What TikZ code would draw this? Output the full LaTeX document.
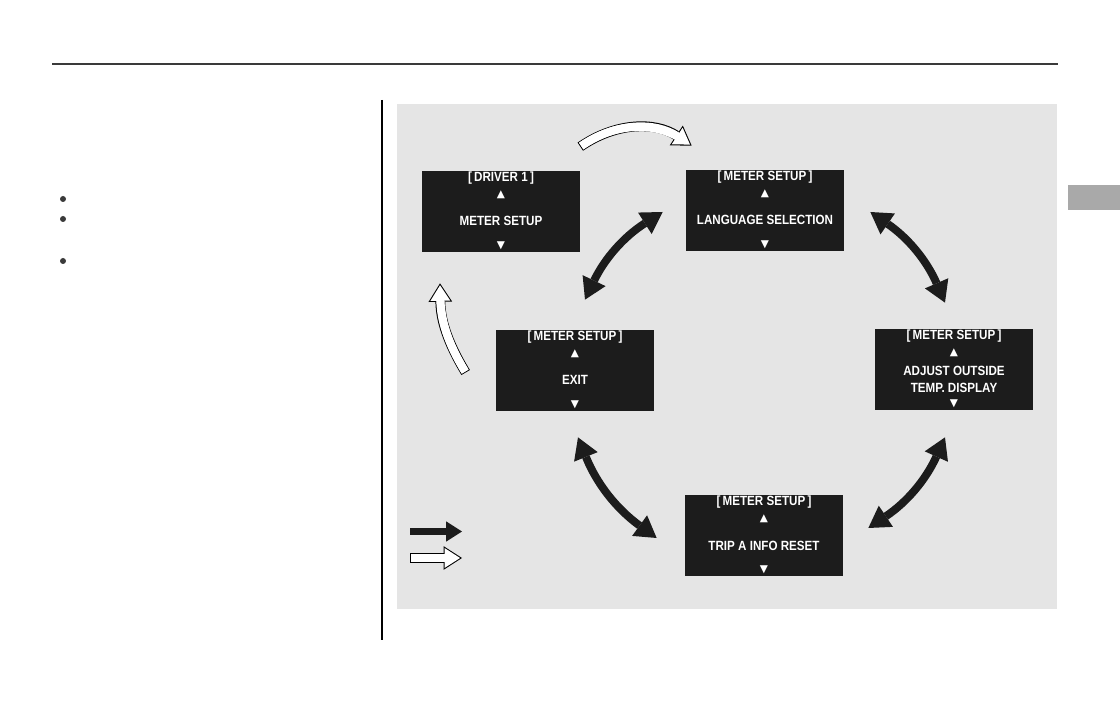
\documentclass[tikz,border=0pt]{standalone}
\usepackage{fontspec}
\newfontfamily\lcdfont{Liberation Sans}[FakeStretch=0.87]
\newfontfamily\symfont{DejaVu Sans}
\usetikzlibrary{arrows.meta}

\definecolor{panelgray}{HTML}{E5E5E5}
\definecolor{lcdblack}{HTML}{1C1C1C}
\definecolor{tabgray}{HTML}{A9A9A9}
\definecolor{rulegray}{HTML}{3A3A3A}

\tikzset{
    screen/.style={fill=lcdblack, minimum width=3.16cm, minimum height=1.62cm, inner sep=0pt},
    lcdtext/.style={text=white, inner sep=0pt, anchor=base, font=\lcdfont\bfseries\fontsize{7.6}{9}\selectfont},
    lcdmark/.style={text=white, inner sep=0pt, font=\symfont\fontsize{6}{6}\selectfont},
    cyclearrow/.style={lcdblack, line width=4.5pt,
        {Triangle[length=12pt,width=14.5pt,line width=0pt]}-{Triangle[length=12pt,width=14.5pt,line width=0pt]}},
    hollowout/.style={black, line width=5.6pt, -{Triangle[length=10.5pt,width=13.5pt,line width=0pt]}},
    hollowin/.style={white, line width=4.5pt, shorten <=0.6pt, shorten >=1.1pt,
        -{Triangle[length=8.8pt,width=11.3pt,line width=0pt]}},
    hollowfill/.style={white, line width=4.5pt, shorten <=0.6pt, shorten >=6pt},
}

% ecran : nom, position, titre
\newcommand{\screenbox}[3]{%
    \node[screen] (#1) at (#2) {};
    \node[lcdtext] (#1-title) at ([shift={(0,11)}]#1.north) {#3};
    \node[lcdmark] (#1-up) at ([shift={(0,24)}]#1.north) {▲};
    \node[lcdmark] (#1-down) at ([shift={(0,75)}]#1.north) {▼};
}
% fleche blanche : depart, chemin, arrivee
\newcommand{\hollowarrow}[3]{%
    \draw[hollowout] #1 #2 #3;
    \draw[hollowin] #1 #2 #3;
    \draw[hollowfill] #1 #2 #3;
}

\begin{document}
\begin{tikzpicture}[x=0.02cm, y=-0.02cm]
    \useasboundingbox[fill=white] (0,0) rectangle (1120,722);

    % Filets de page
    \draw[rulegray, line width=0.8pt] (52,64) -- (1058,64);
    \draw[black, line width=0.6pt] (382,100) -- (382,640);
    \fill[tabgray] (1068,185) rectangle (1120,210);

    % Puces
    \foreach \y in {199, 219, 261} {
        \fill[rulegray] (63,\y) circle (3);
    }

    % Fond du schema
    \fill[panelgray] (397,104) rectangle (1057,609);

    % Ecrans
    \screenbox{drv}{501,211.5}{[\,DRIVER 1\,]}
    \node[lcdtext] (drv-body) at ([shift={(0,55)}]drv.north) {METER SETUP};

    \screenbox{lang}{765,210.5}{[\,METER SETUP\,]}
    \node[lcdtext] (lang-body) at ([shift={(0,55)}]lang.north) {LANGUAGE SELECTION};

    \screenbox{exit}{575,370.5}{[\,METER SETUP\,]}
    \node[lcdtext] (exit-body) at ([shift={(0,55)}]exit.north) {EXIT};

    \screenbox{adj}{954,369.5}{[\,METER SETUP\,]}
    \node[lcdtext] (adj-body1) at ([shift={(0,47)}]adj.north) {ADJUST OUTSIDE};
    \node[lcdtext] (adj-body2) at ([shift={(0,64)}]adj.north) {TEMP.\ DISPLAY};

    \screenbox{trip}{764,535.5}{[\,METER SETUP\,]}
    \node[lcdtext] (trip-body) at ([shift={(0,56)}]trip.north) {TRIP A INFO RESET};

    % Fleches noires (cycle)
    \draw[cyclearrow] ([shift={(10,-30)}]exit.north) to[bend left=16] ([shift={(-23,1.5)}]lang.west);
    \draw[cyclearrow] ([shift={(26,1.5)}]lang.east) to[bend left=16] ([shift={(-9,-26)}]adj.north);
    \draw[cyclearrow] ([shift={(-9,27)}]adj.south) to[bend left=16] ([shift={(25,-7.5)}]trip.east);
    \draw[cyclearrow] ([shift={(-28,2.5)}]trip.west) to[bend left=16] ([shift={(3,26)}]exit.south);

    % Fleches blanches
    \hollowarrow{([shift={(0,-24)}]drv.north east)}{to[bend left=34]}{([shift={(6,-24)}]lang.north west)}
    \hollowarrow{([shift={(-30,2)}]exit.west)}{to[bend left=15]}{([shift={(-61,31)}]drv.south)}

    % Legende
    \coordinate (keyblk-a) at (410,531.5);
    \coordinate (keyblk-b) at (462,531.5);
    \draw[lcdblack, line width=4.2pt, -{Triangle[length=9pt,width=11.5pt,line width=0pt]}] (keyblk-a) -- (keyblk-b);
    \coordinate (keywht-a) at (410,558);
    \coordinate (keywht-b) at (462,558);
    \hollowarrow{(keywht-a)}{--}{(keywht-b)}
\end{tikzpicture}
\end{document}
